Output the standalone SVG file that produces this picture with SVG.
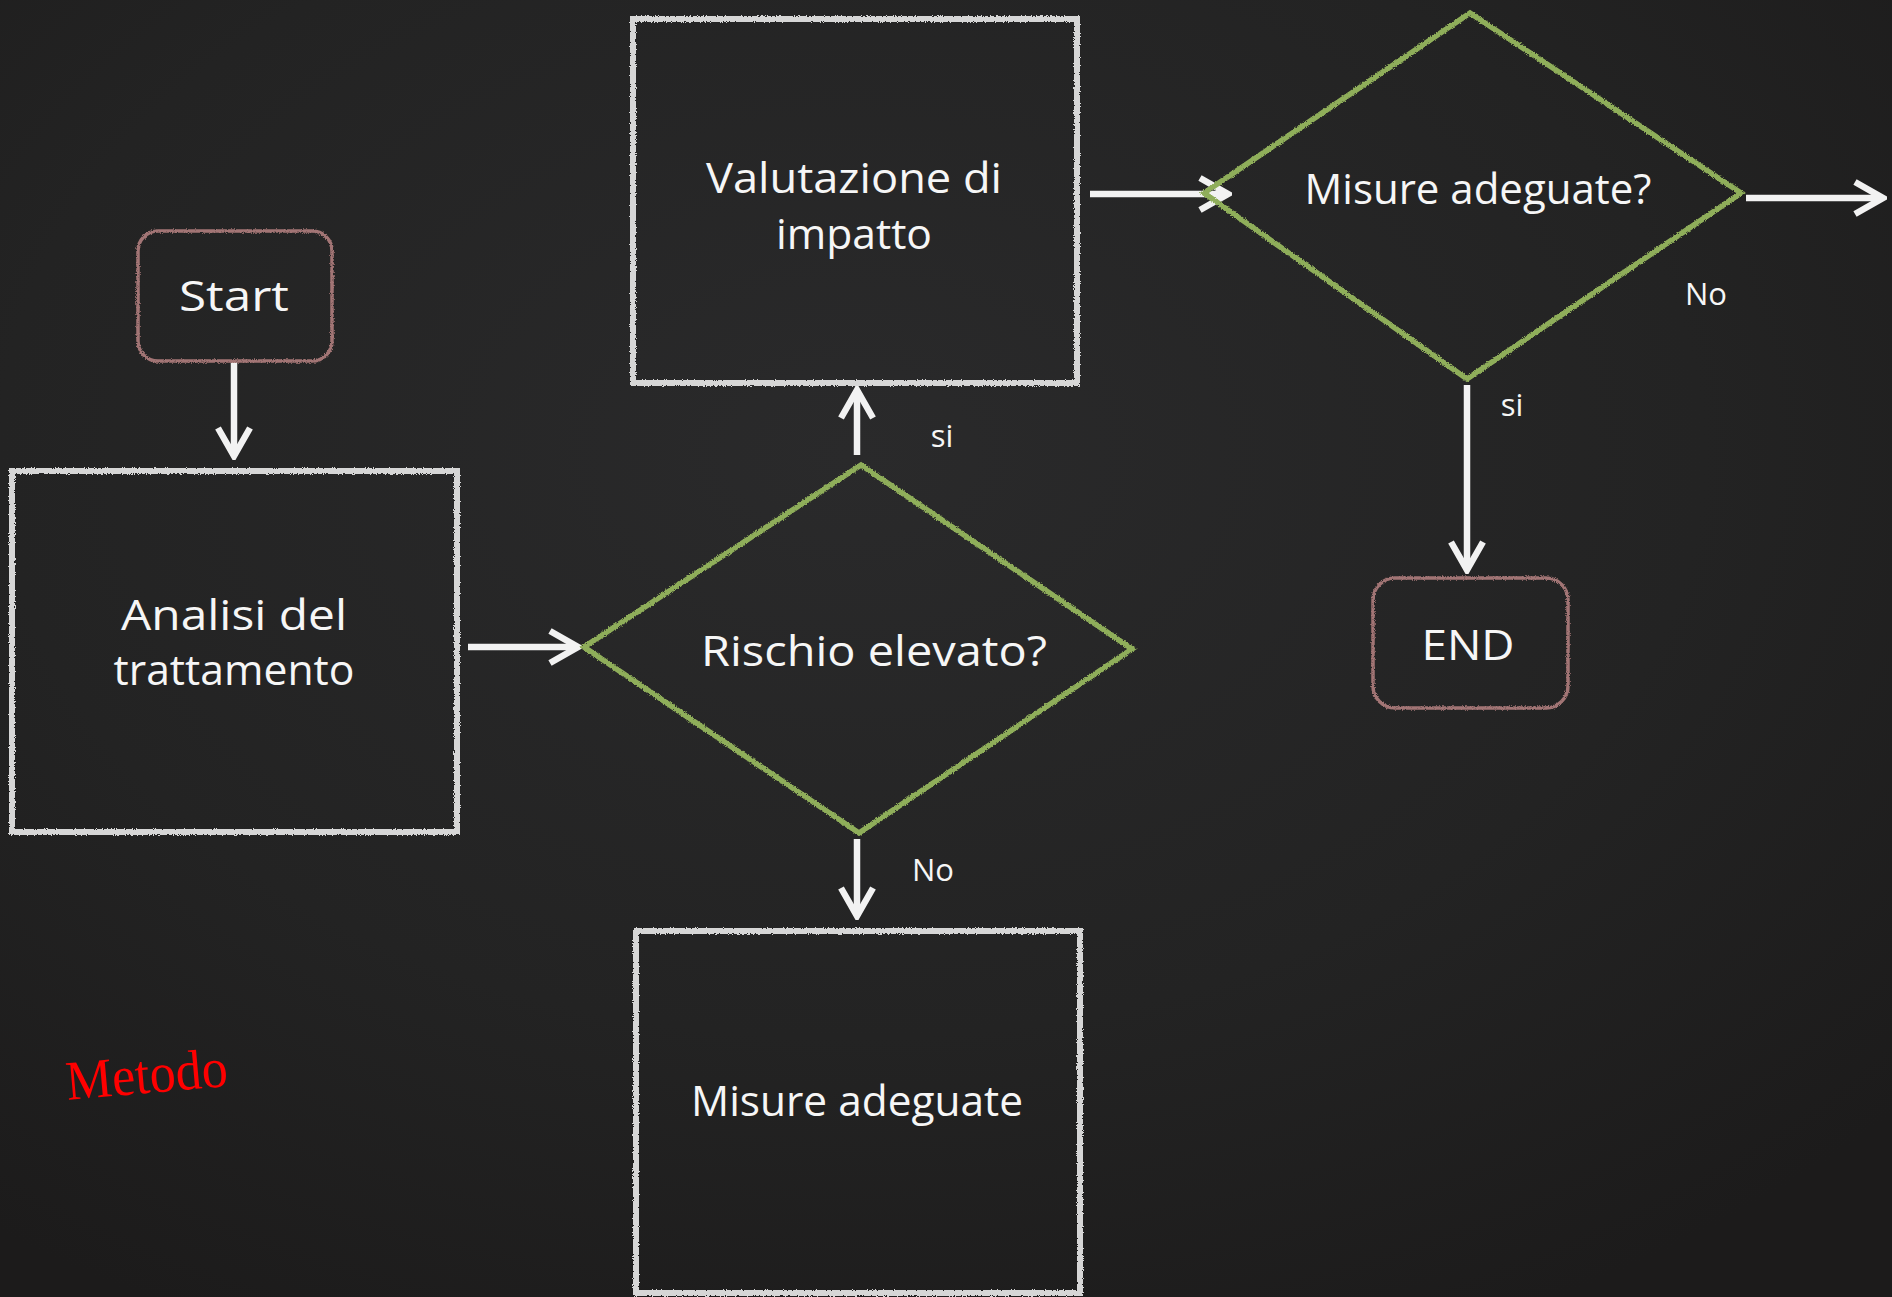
<svg xmlns="http://www.w3.org/2000/svg" width="1892" height="1297" viewBox="0 0 1892 1297">
<style>
.box{fill:none;stroke:#d6d6d6;stroke-width:6}
.term{fill:none;stroke:#a27474;stroke-width:3.5}
.dia{fill:none;stroke:#8fae5a;stroke-width:5.5;stroke-linejoin:miter}
.lbl{font-family:"Open Sans","Liberation Sans",sans-serif;fill:#f6f6f6;text-anchor:middle}
.big{font-size:42px}
.small{font-size:31px}
.conn{stroke:#f2f2f2;stroke-width:6.5;fill:none;marker-end:url(#arr)}
</style>
<defs>
<radialGradient id="bg" cx="45%" cy="35%" r="75%">
<stop offset="0" stop-color="#2a2a2b"/>
<stop offset="0.6" stop-color="#232323"/>
<stop offset="1" stop-color="#1c1b1b"/>
</radialGradient>
<filter id="chalk" x="-5%" y="-5%" width="110%" height="110%">
<feTurbulence type="fractalNoise" baseFrequency="0.9" numOctaves="2" seed="4" result="n"/>
<feDisplacementMap in="SourceGraphic" in2="n" scale="3.5" xChannelSelector="R" yChannelSelector="G"/>
</filter>
<marker id="arr" viewBox="-34 -20 38 40" refX="0" refY="0" markerWidth="38" markerHeight="40" markerUnits="userSpaceOnUse" orient="auto">
<path d="M-28,-16 L0,0 L-28,16" fill="none" stroke="#f2f2f2" stroke-width="6.5"/>
</marker>
</defs>
<rect width="1892" height="1297" fill="url(#bg)"/>

<g id="connectors">
<line class="conn" x1="234" y1="362" x2="234" y2="456"/>
<line class="conn" x1="468" y1="647" x2="578" y2="647"/>
<line class="conn" x1="857" y1="455" x2="857" y2="390"/>
<line class="conn" x1="1090" y1="194" x2="1228" y2="194"/>
<line class="conn" x1="1746" y1="198" x2="1883" y2="198"/>
<line class="conn" x1="1467" y1="385" x2="1467" y2="570"/>
<line class="conn" x1="857" y1="839" x2="857" y2="916"/>
<text class="lbl small" x="942" y="447">si</text>
<text class="lbl small" x="933" y="881">No</text>
<text class="lbl small" x="1706" y="305">No</text>
<text class="lbl small" x="1512" y="416">si</text>
</g>

<g id="start">
<rect class="term" filter="url(#chalk)" x="138" y="231" width="194" height="130" rx="20"/>
<text class="lbl big" x="234" y="311" textLength="110" lengthAdjust="spacingAndGlyphs">Start</text>
</g>

<g id="analisi">
<rect class="box" filter="url(#chalk)" x="12" y="471" width="445" height="361"/>
<text class="lbl big" x="234" y="630" textLength="226" lengthAdjust="spacingAndGlyphs">Analisi del</text>
<text class="lbl big" x="234" y="685" textLength="241" lengthAdjust="spacingAndGlyphs">trattamento</text>
</g>

<g id="rischio">
<polygon class="dia" filter="url(#chalk)" points="584,647 861,465 1132,649 859,833"/>
<text class="lbl big" x="874" y="666" textLength="346" lengthAdjust="spacingAndGlyphs">Rischio elevato?</text>
</g>

<g id="valutazione">
<rect class="box" filter="url(#chalk)" x="633" y="19" width="444" height="364"/>
<text class="lbl big" x="854" y="193" textLength="296" lengthAdjust="spacingAndGlyphs">Valutazione di</text>
<text class="lbl big" x="854" y="249" textLength="156" lengthAdjust="spacingAndGlyphs">impatto</text>
</g>

<g id="misure-q">
<polygon class="dia" filter="url(#chalk)" points="1204,193 1470,13 1741,193 1467,379"/>
<text class="lbl big" x="1478" y="204" textLength="347" lengthAdjust="spacingAndGlyphs">Misure adeguate?</text>
</g>

<g id="end">
<rect class="term" filter="url(#chalk)" x="1373" y="578" width="195" height="130" rx="22"/>
<text class="lbl big" x="1468" y="660" textLength="93" lengthAdjust="spacingAndGlyphs">END</text>
</g>

<g id="misure">
<rect class="box" filter="url(#chalk)" x="636" y="931" width="444" height="362"/>
<text class="lbl big" x="857" y="1116" textLength="332" lengthAdjust="spacingAndGlyphs">Misure adeguate</text>
</g>

<g id="metodo">
<text x="147" y="1093" transform="rotate(-5 147 1080)" font-family="'Liberation Serif',serif" font-size="56" fill="#ff0000" text-anchor="middle" textLength="162" lengthAdjust="spacingAndGlyphs">Metodo</text>
</g>
</svg>
